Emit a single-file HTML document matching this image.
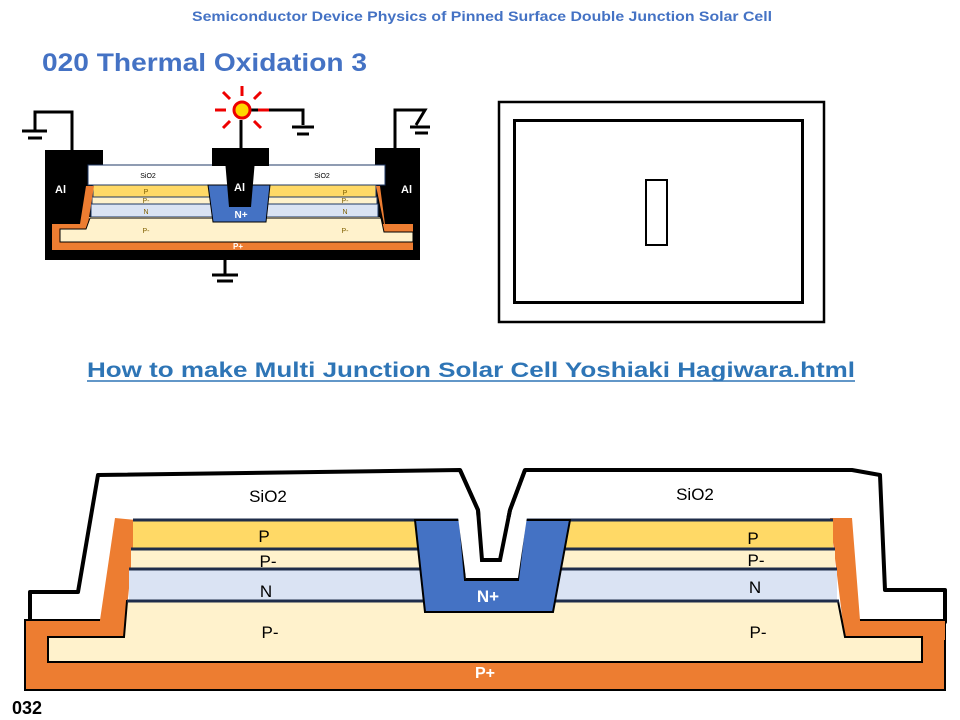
<!DOCTYPE html>
<html><head><meta charset="utf-8"><style>
body{margin:0;width:960px;height:720px;background:#fff;overflow:hidden;font-family:"Liberation Sans",sans-serif}
svg{position:absolute;left:0;top:0}
</style></head><body>
<svg width="960" height="720" viewBox="0 0 960 720" font-family="Liberation Sans, sans-serif">
<text x="482" y="21" text-anchor="middle" font-size="14" font-weight="bold" fill="#4472c4" textLength="580" lengthAdjust="spacingAndGlyphs">Semiconductor Device Physics of Pinned Surface Double Junction Solar Cell</text>
<text x="42" y="71" font-size="25" font-weight="bold" fill="#4472c4" textLength="325" lengthAdjust="spacingAndGlyphs">020 Thermal Oxidation 3</text>
<text x="87" y="377" font-size="21" font-weight="bold" fill="#2e75b6" textLength="768" lengthAdjust="spacingAndGlyphs">How to make Multi Junction Solar Cell Yoshiaki Hagiwara.html</text>
<line x1="87" y1="381" x2="855" y2="381" stroke="#2e75b6" stroke-width="1.5"/>
<text x="12" y="714" font-size="18" font-weight="bold" fill="#000">032</text>

<!-- right rectangle -->
<rect x="499" y="102" width="325" height="220" fill="none" stroke="#000" stroke-width="2.5"/>
<rect x="514.5" y="120.5" width="288" height="182" fill="none" stroke="#000" stroke-width="3"/>
<rect x="646" y="180" width="21" height="65" fill="none" stroke="#000" stroke-width="2"/>

<!-- small diagram -->
<rect x="45" y="150" width="58" height="110" fill="#000"/>
<rect x="375" y="148" width="45" height="112" fill="#000"/>
<rect x="45" y="240" width="375" height="20" fill="#000"/>
<rect x="88" y="165" width="297" height="20" fill="#fff" stroke="#1f3864" stroke-width="1"/>
<rect x="93" y="185" width="283" height="12" fill="#ffd966" stroke="#1f3864" stroke-width="1"/>
<rect x="92" y="197" width="285" height="7" fill="#fff2cc" stroke="#1f3864" stroke-width="1"/>
<rect x="91" y="204" width="287" height="13" fill="#dae3f3" stroke="#1f3864" stroke-width="1"/>
<rect x="89" y="217" width="291" height="12" fill="#fff2cc"/>
<polygon points="86,186 94,186 88,224 413,224 413,250 52,250 52,224 80,224" fill="#ed7d31"/>
<polygon points="380,186 376,186 384,224 413,224 413,232 386,232" fill="#ed7d31"/>
<polygon points="90,218 86,229 60,229 60,242 413,242 413,232 384,232 381,218" fill="#fff2cc" stroke="#000" stroke-width="1"/>
<polygon points="208,185 270,185 266,222 213,222" fill="#4472c4" stroke="#000" stroke-width="1"/>
<rect x="212" y="148" width="57" height="18" fill="#000"/>
<polygon points="225,160 255,160 251,207 229,207" fill="#000"/>
<text x="55" y="193" font-size="11" font-weight="bold" fill="#fff">Al</text>
<text x="234" y="191" font-size="11" font-weight="bold" fill="#fff">Al</text>
<text x="401" y="193" font-size="11" font-weight="bold" fill="#fff">Al</text>
<text x="241" y="218" text-anchor="middle" font-size="10" font-weight="bold" fill="#fff">N+</text>
<text x="148" y="178" text-anchor="middle" font-size="7">SiO2</text>
<text x="322" y="178" text-anchor="middle" font-size="7">SiO2</text>
<g font-size="7" fill="#7f6000" text-anchor="middle">
<text x="146" y="194">P</text><text x="146" y="203">P-</text><text x="146" y="214">N</text><text x="146" y="233">P-</text>
<text x="345" y="195">P</text><text x="345" y="203">P-</text><text x="345" y="214">N</text><text x="345" y="233">P-</text>
</g>
<text x="238" y="249" text-anchor="middle" font-size="8" font-weight="bold" fill="#fff">P+</text>
<!-- grounds -->
<g stroke="#000" stroke-width="3" fill="none">
<polyline points="72,150 72,112 35,112 35,130"/>
<line x1="22" y1="131" x2="47" y2="131"/><line x1="28" y1="138" x2="42" y2="138"/>
<polyline points="241,148 241,120"/>
<polyline points="250,110 303,110 303,125"/>
<line x1="292" y1="127" x2="314" y2="127"/><line x1="297" y1="134" x2="309" y2="134"/>
<polyline points="395,150 395,110 425,110 416,125"/>
<line x1="410" y1="127" x2="430" y2="127"/><line x1="415" y1="133" x2="428" y2="133"/>
<line x1="225" y1="260" x2="225" y2="275"/>
<line x1="212" y1="275" x2="238" y2="275"/><line x1="217" y1="281" x2="233" y2="281"/>
</g>
<g stroke="#e00" stroke-width="3">
<line x1="242" y1="86" x2="242" y2="96"/>
<line x1="215" y1="110" x2="226" y2="110"/><line x1="258" y1="110" x2="269" y2="110"/>
<line x1="223" y1="92" x2="230" y2="99"/><line x1="261" y1="92" x2="254" y2="99"/>
<line x1="223" y1="128" x2="230" y2="121"/><line x1="261" y1="128" x2="254" y2="121"/>
</g>
<circle cx="242" cy="110" r="8" fill="#ffd700" stroke="#e00" stroke-width="3"/>

<!-- big diagram -->
<polygon points="30,622 30,592 78,592 98,475 460,470 478,510 482,560 500,560 510,510 525,470 852,470 880,475 885,590 945,590 945,622" fill="#fff" stroke="#000" stroke-width="4" stroke-linejoin="round"/>
<rect x="25" y="620" width="920" height="70" fill="#ed7d31" stroke="#000" stroke-width="2"/>
<polygon points="115,518 136,520 124,637 100,637 100,620" fill="#ed7d31"/>
<polygon points="830,518 852,518 860,620 945,620 945,640 845,640" fill="#ed7d31"/>
<line x1="860" y1="620" x2="945" y2="620" stroke="#000" stroke-width="2"/>
<polygon points="48,637 48,662 922,662 922,637 845,637 838,601 127,601 124,637" fill="#fff2cc" stroke="#000" stroke-width="2"/>
<rect x="133" y="520" width="700" height="28" fill="#ffd966"/>
<rect x="131" y="549" width="704" height="20" fill="#fff2cc"/>
<rect x="129" y="570" width="708" height="31" fill="#dae3f3"/>
<g stroke="#1f2d4a" stroke-width="3">
<line x1="133" y1="520" x2="833" y2="520"/><line x1="131" y1="549" x2="835" y2="549"/>
<line x1="129" y1="569" x2="837" y2="569"/><line x1="127" y1="601" x2="839" y2="601"/>
</g>
<polygon points="415,520 460,520 465,580 518,580 525,520 570,520 553,612 425,612" fill="#4472c4" stroke="#000" stroke-width="2"/>
<polygon points="458,517 527,517 518,578 466,578" fill="#fff"/>
<line x1="466" y1="579" x2="518" y2="579" stroke="#000" stroke-width="2"/>
<polyline points="460,470 478,510 482,560 500,560 510,510 525,470" fill="none" stroke="#000" stroke-width="4"/>
<g font-size="17" fill="#000" text-anchor="middle">
<text x="268" y="502">SiO2</text><text x="695" y="500">SiO2</text>
<text x="264" y="542">P</text><text x="268" y="567">P-</text><text x="266" y="597">N</text><text x="270" y="638">P-</text>
<text x="753" y="544">P</text><text x="756" y="566">P-</text><text x="755" y="593">N</text><text x="758" y="638">P-</text>
</g>
<text x="488" y="602" text-anchor="middle" font-size="17" font-weight="bold" fill="#fff">N+</text>
<text x="485" y="678" text-anchor="middle" font-size="16" font-weight="bold" fill="#fff">P+</text>
</svg>
</body></html>
